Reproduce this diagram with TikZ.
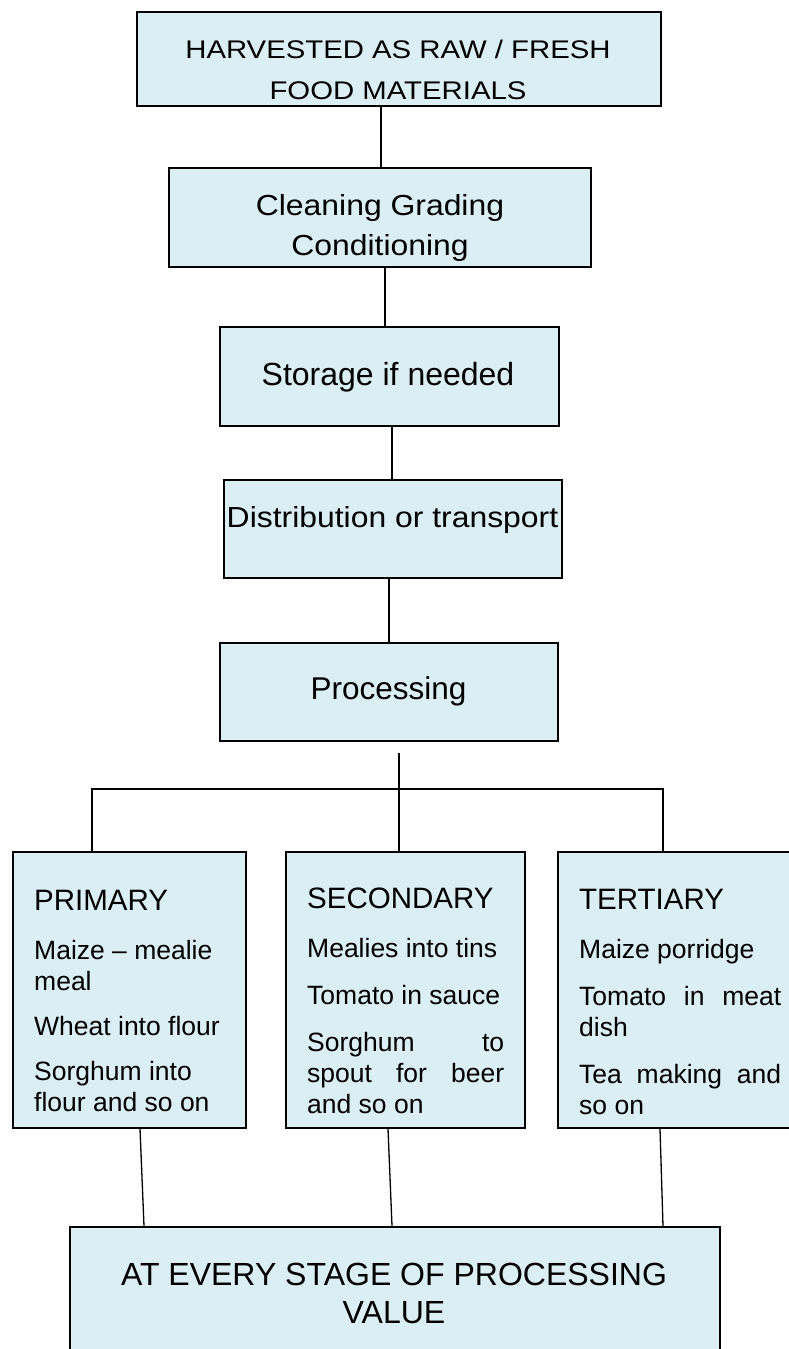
\documentclass[tikz,border=0pt]{standalone}
\usepackage{fontspec}
\setmainfont{Liberation Sans}
\newfontfamily\fwide[FakeStretch=1.15]{Liberation Sans}
\newfontfamily\fmid[FakeStretch=1.1]{Liberation Sans}
\definecolor{boxfill}{RGB}{218,238,243}
\begin{document}
\begin{tikzpicture}[x=1pt,y=-1pt,
  box/.style={draw=black, line width=1.8pt, fill=boxfill, inner sep=0pt, anchor=north west},
  conn/.style={draw=black, line width=1.3pt},
  txt/.style={inner sep=0pt, anchor=base},
  ctxt/.style={inner sep=0pt, anchor=base west, align=flush left,
    font=\fontsize{26.5}{31}\selectfont}]
\useasboundingbox (0,0) rectangle (788,1349);
% boxes
\node[box, minimum width=524pt, minimum height=94pt] (b1) at (136,11) {};
\node[box, minimum width=422pt, minimum height=99pt] (b2) at (168,167) {};
\node[box, minimum width=339pt, minimum height=99pt] (b3) at (219,326) {};
\node[box, minimum width=338pt, minimum height=98pt] (b4) at (223,479) {};
\node[box, minimum width=338pt, minimum height=98pt] (b5) at (219,642) {};
\node[box, minimum width=233pt, minimum height=276pt] (prim) at (12,851) {};
\node[box, minimum width=239pt, minimum height=276pt] (mid) at (285,851) {};
\node[box, minimum width=240pt, minimum height=276pt] (tert) at (557,851) {};
\node[box, minimum width=650pt, minimum height=140pt] (val) at (69,1226) {};
% texts
\node[txt, text width=520pt, align=flush center, font=\fwide\fontsize{25.5}{41}\selectfont] (t1) at (398,58)
  {HARVESTED AS RAW / FRESH\\FOOD MATERIALS};
\node[txt, text width=400pt, align=flush center, font=\fmid\fontsize{29}{40}\selectfont] (t2) at (380,215)
  {Cleaning Grading\\Conditioning};
\node[txt, text width=330pt, align=flush center, font=\fontsize{32}{38}\selectfont] (t3) at (388,385)
  {Storage if needed};
\node[txt, text width=340pt, align=flush center, font=\fmid\fontsize{29}{35}\selectfont] (t4) at (392.5,527)
  {Distribution or transport};
\node[txt, text width=330pt, align=flush center, font=\fontsize{31.5}{38}\selectfont] (t5) at (388.5,699)
  {Processing};
\node[ctxt, text width=200pt] (tp) at (34,910)
  {{\fontsize{29.5}{31}\selectfont PRIMARY}\\[18pt]
   Maize – mealie\\ meal\\[14pt] Wheat into flour\\[14pt] Sorghum into\\ flour and so on};
\node[ctxt, text width=197pt] (tm) at (307,908)
  {{\fontsize{29.5}{31}\selectfont SECONDARY}\\[18pt]
   Mealies into tins\\[16pt] Tomato in sauce\\[16pt]
   \leavevmode\hbox to 197pt{Sorghum\hfill to}\\
   \leavevmode\hbox to 197pt{spout\hfill for\hfill beer}\\ and so on};
\node[ctxt, text width=202pt] (tt) at (579,909)
  {{\fontsize{29.5}{31}\selectfont TERTIARY}\\[18pt]
   Maize porridge\\[16pt] \leavevmode\hbox to 202pt{Tomato\hfill in\hfill meat}\\ dish\\[16pt]
   \leavevmode\hbox to 202pt{Tea\hfill making\hfill and}\\ so on};
\node[txt, text width=600pt, align=flush center, font=\fontsize{32}{38}\selectfont] (tv) at (394,1285)
  {AT EVERY STAGE OF PROCESSING\\VALUE};
% connectors
\coordinate (x1) at (381,0);
\coordinate (x2) at (385,0);
\coordinate (x3) at (392,0);
\coordinate (x4) at (389,0);
\draw[conn] (b1.south -| x1) -- (b2.north -| x1);
\draw[conn] (b2.south -| x2) -- (b3.north -| x2);
\draw[conn] (b3.south -| x3) -- (b4.north -| x3);
\draw[conn] (b4.south -| x4) -- (b5.north -| x4);
\coordinate (pj) at (399,753);
\coordinate (hl) at (92,789);
\coordinate (hr) at (663,789);
\draw[conn] (pj) -- (mid.north -| pj);
\draw[conn] (prim.north -| hl) -- (hl) -- (hr) -- (tert.north -| hr);
\coordinate (pa) at (140,0); \coordinate (pb) at (144,0);
\coordinate (ma) at (388,0); \coordinate (mb) at (392,0);
\coordinate (ra) at (660,0); \coordinate (rb) at (663,0);
\draw[conn] (prim.south -| pa) -- (val.north -| pb);
\draw[conn] (mid.south -| ma) -- (val.north -| mb);
\draw[conn] (tert.south -| ra) -- (val.north -| rb);
\end{tikzpicture}
\end{document}
